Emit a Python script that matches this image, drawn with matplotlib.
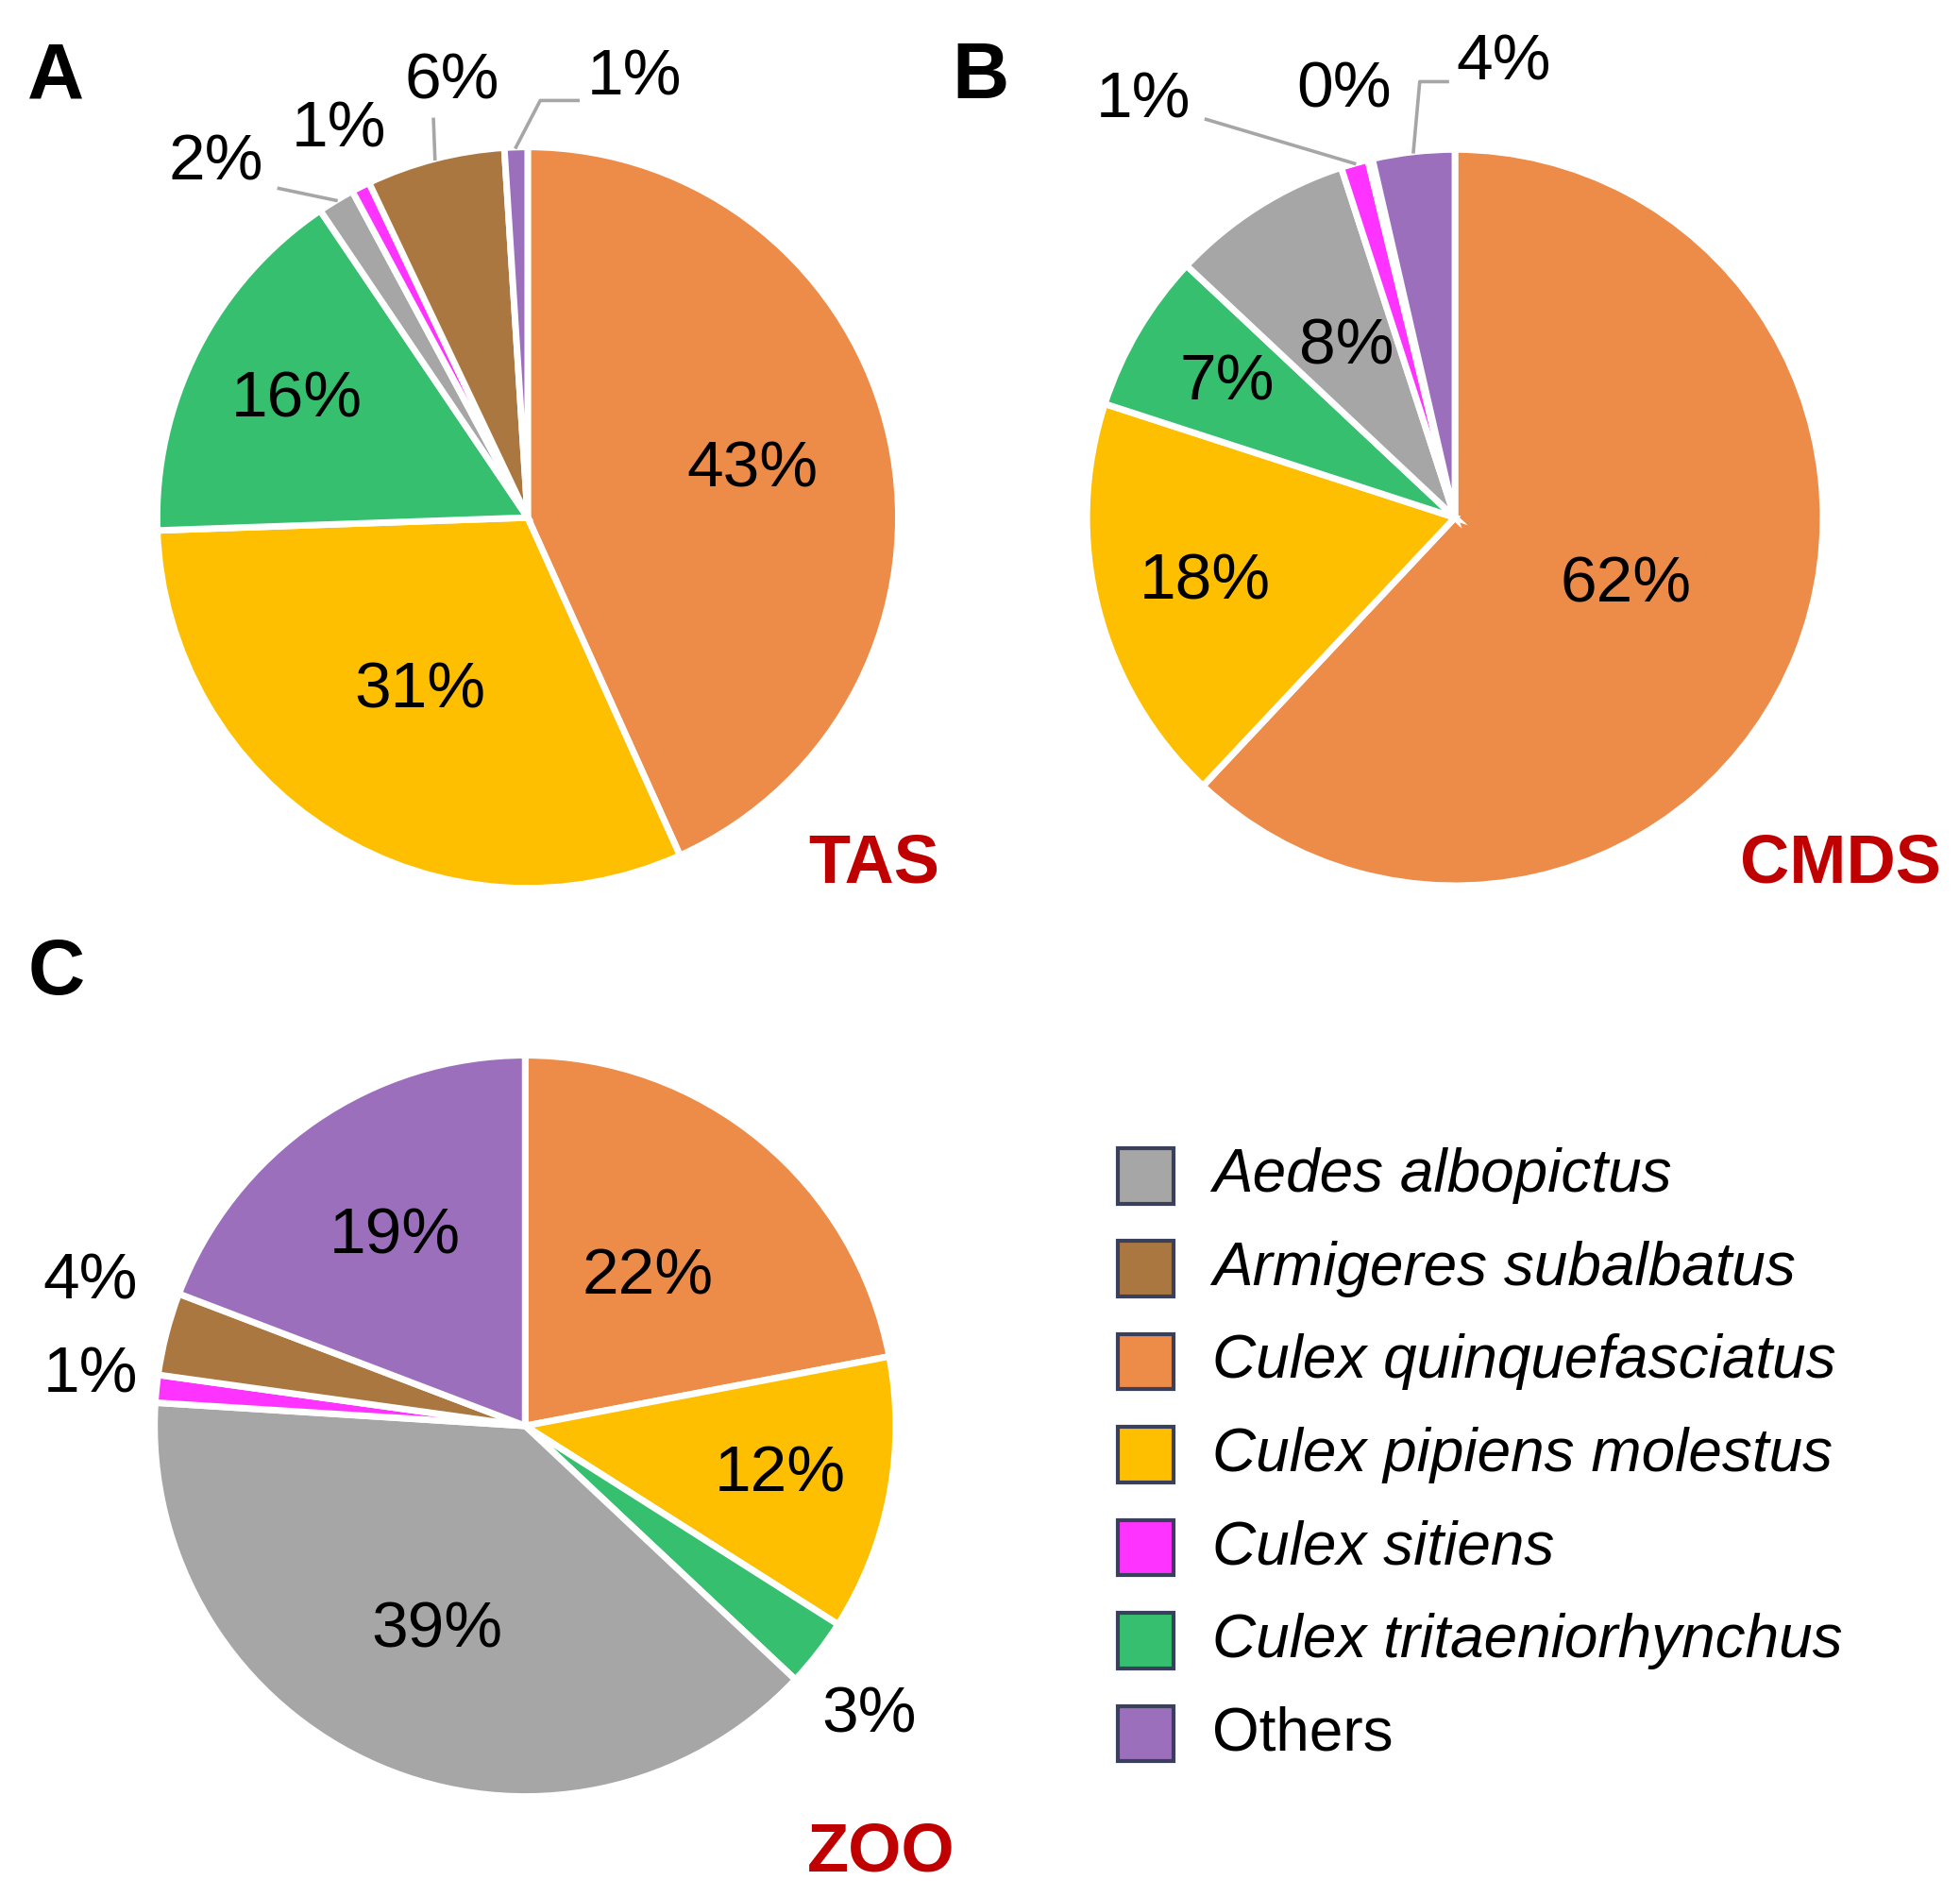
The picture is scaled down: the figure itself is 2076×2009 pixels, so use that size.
import numpy as np
import matplotlib.pyplot as plt
from matplotlib.patches import Rectangle

plt.rcParams["font.family"] = ["Liberation Sans", "DejaVu Sans"]

species = ["Culex quinquefasciatus", "Culex pipiens molestus", "Culex tritaeniorhynchus",
           "Aedes albopictus", "Culex sitiens", "Armigeres subalbatus", "Others"]
colors = ["#ED8B48", "#FDBF00", "#36BF6E", "#A6A6A6", "#FF33FF", "#A9773F", "#9B6FBC"]

tas = [43.0, 31.0, 16.0, 1.6, 0.8, 6.0, 1.0]
cmds = [62.0, 18.0, 7.0, 8.0, 1.2, 0.2, 3.6]
zoo = [22.0, 12.0, 3.0, 39.0, 1.2, 3.6, 19.2]

legend_order = ["Aedes albopictus", "Armigeres subalbatus", "Culex quinquefasciatus",
                "Culex pipiens molestus", "Culex sitiens", "Culex tritaeniorhynchus", "Others"]

W, H = 1560, 1510
fig = plt.figure(figsize=(10.38, 10.045), dpi=200)
ax = fig.add_axes([0, 0, 1, 1])

FS = 25
RED = "#C00000"


def draw_pie(values, cx, cy, r, inside, outside):
    wedges, _ = ax.pie(values, colors=colors, startangle=90, counterclock=False,
                       center=(cx, H - cy), radius=r, frame=True,
                       wedgeprops=dict(edgecolor="white", linewidth=2.5))
    for i, w in enumerate(wedges):
        mid = np.deg2rad((w.theta1 + w.theta2) / 2)
        if i in inside:
            d = inside[i]
            ax.text(cx + d * r * np.cos(mid), H - cy + d * r * np.sin(mid),
                    f"{round(values[i])}%", ha="center", va="center", fontsize=FS)
        elif i in outside:
            tx, ty, line = outside[i]
            ax.text(tx, H - ty, f"{round(values[i])}%", ha="center", va="center", fontsize=FS)
            if line:
                px = cx + r * np.cos(mid)
                py = H - cy + r * np.sin(mid)
                xs = [px] + [p[0] for p in line]
                ys = [py] + [H - p[1] for p in line]
                ax.plot(xs, ys, color="#A6A6A6", lw=1.3)


draw_pie(tas, 420, 412, 295, {0: 0.62, 1: 0.55, 2: 0.7},
         {3: (172, 130, [(222, 150)]), 4: (270, 103, None),
          5: (360, 65, [(345, 95)]), 6: (505, 62, [(430, 80), (460, 80)])})
draw_pie(cmds, 1158, 412, 293, {0: 0.5, 1: 0.7, 2: 0.72, 3: 0.55},
         {4: (910, 80, [(960, 95)]), 5: (1070, 72, None),
          6: (1197, 50, [(1130, 65), (1152, 65)])})
draw_pie(zoo, 418, 1135, 295, {0: 0.52, 1: 0.7, 3: 0.6, 6: 0.62},
         {2: (692, 1365, None), 4: (72, 1095, None), 5: (72, 1020, None)})

ax.text(22, H - 62, "A", fontsize=30, fontweight="bold", va="center")
ax.text(758, H - 62, "B", fontsize=30, fontweight="bold", va="center")
ax.text(22, H - 775, "C", fontsize=30, fontweight="bold", va="center")
ax.text(748, H - 688, "TAS", fontsize=26, fontweight="bold", color=RED, ha="right", va="center")
ax.text(1545, H - 688, "CMDS", fontsize=26, fontweight="bold", color=RED, ha="right", va="center")
ax.text(760, H - 1475, "ZOO", fontsize=26, fontweight="bold", color=RED, ha="right", va="center")

for k, name in enumerate(legend_order):
    y = 936 + k * 74
    ax.add_patch(Rectangle((890, H - y - 22), 44, 44, facecolor=colors[species.index(name)],
                           edgecolor="#3A3F5C", lw=1.5))
    ax.text(965, H - y, name, fontsize=23, va="center",
            style="normal" if name == "Others" else "italic")

ax.set_xlim(0, W)
ax.set_ylim(0, H)
ax.set_aspect("auto")
ax.axis("off")
fig.savefig("out.png", dpi=200)
